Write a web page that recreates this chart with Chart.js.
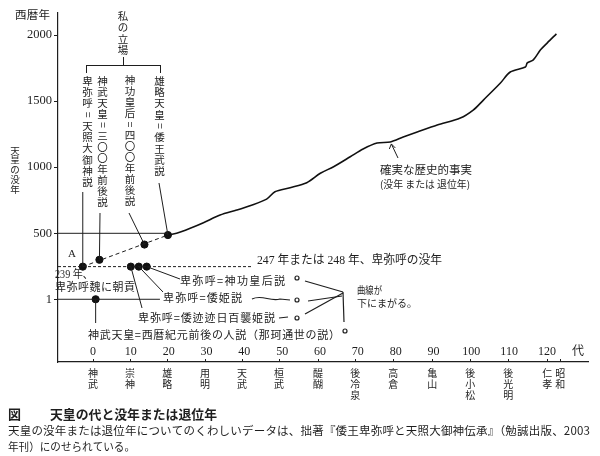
<!DOCTYPE html>
<html>
<head>
<meta charset="utf-8">
<script src="https://cdn.jsdelivr.net/npm/chart.js@4.4.0/dist/chart.umd.min.js"></script>
<style>
  html, body { margin: 0; padding: 0; background: #fff; }
  canvas { display: block; }
</style>
</head>
<body>
<canvas id="c" width="600" height="456"></canvas>
<script>
// 代 (reign number) and year of death / abdication
const curveReign = [19.9, 22.1, 25.7, 29.2, 33.6, 38.0, 41.5, 45.9, 48.1, 52.1, 56.5, 60.1, 63.6, 68.0,
  71.4, 75.1, 78.6, 82.0, 85.7, 91.0, 97.1, 100.5, 103.2, 107.7, 110.3, 114.3, 114.8, 116.4, 118.3, 120.1, 122.5];
const curveYear = [487, 500, 538, 580, 638, 676, 709, 759, 815, 845, 883, 954, 1004, 1079,
  1138, 1183, 1191, 1228, 1266, 1319, 1372, 1432, 1508, 1637, 1720, 1758, 1789, 1812, 1888, 1941, 2009];

// theory points
const pointReign = [-2.7, 1.7, 13.6, 19.8, 10.0, 12.1, 14.2, 0.7];
const pointYear = [248, 300, 415, 487, 248, 248, 248, 1];

// reference levels
const himikoDeath = 248;   // 247 or 248
const yuryakuLevel = 500;
const yearOne = 1;

// axes
const yTickValues = [1, 500, 1000, 1500, 2000];
const xNumberLabels = [0, 10, 20, 30, 40, 50, 60, 70, 80, 90, 100, 110, 120];
const emperorTickValues = [0, 9.8, 19.6, 29.6, 39.4, 49.2, 59.5, 69.3, 79.4, 89.7, 99.7, 109.8, 120.1, 123.5];
const emperorNames = ['神武', '崇神', '雄略', '用明', '天武', '桓武', '醍醐', '後冷泉', '高倉', '亀山', '後小松', '後光明', '仁孝', '昭和'];

const X_MIN = -9.25, X_MAX = 130.85;
const Y_MIN = -473.5, Y_MAX = 2166.6;

const SERIF = "'Liberation Serif', 'Noto Sans CJK JP', serif";
const JP = "'Noto Sans CJK JP', 'Noto Sans', sans-serif";
const INK = '#1e1e1e';

const curve = curveReign.map((x, i) => ({ x, y: curveYear[i] }));
const points = pointReign.map((x, i) => ({ x, y: pointYear[i] }));

function fitText(ctx, s, x1, x2, y, size, family, weight) {
  ctx.font = (weight || '') + ' ' + size + 'px ' + family;
  ctx.textAlign = 'left';
  ctx.textBaseline = 'middle';
  ctx.letterSpacing = '0px';
  const w = ctx.measureText(s).width;
  const target = x2 - x1;
  const n = Array.from(s).length;
  if (w > target) {
    ctx.fillText(s, x1, y, target);
  } else {
    if (n > 1) ctx.letterSpacing = ((target - w) / (n - 1)) + 'px';
    ctx.fillText(s, x1, y);
    ctx.letterSpacing = '0px';
  }
}

function vText(ctx, s, x, yTop, yBottom, size) {
  const chars = Array.from(s);
  const pitch = (yBottom - yTop) / chars.length;
  ctx.font = size + 'px ' + JP;
  ctx.textAlign = 'center';
  ctx.textBaseline = 'middle';
  chars.forEach((ch, i) => {
    const y = yTop + pitch * (i + 0.5);
    if (ch === '=') {
      ctx.save();
      ctx.translate(x, y);
      ctx.rotate(Math.PI / 2);
      ctx.fillText('=', 0, 0);
      ctx.restore();
    } else {
      ctx.fillText(ch, x, y);
    }
  });
}

function line(ctx, x1, y1, x2, y2) {
  ctx.beginPath();
  ctx.moveTo(x1, y1);
  ctx.lineTo(x2, y2);
  ctx.stroke();
}

const annot = {
  id: 'annot',
  beforeDraw(chart) {
    const ctx = chart.ctx;
    ctx.save();
    ctx.fillStyle = '#fff';
    ctx.fillRect(0, 0, chart.width, chart.height);
    ctx.restore();
  },
  afterDraw(chart) {
    const ctx = chart.ctx;
    const xs = chart.scales.x, ys = chart.scales.y;
    const px = v => xs.getPixelForValue(v);
    const py = v => ys.getPixelForValue(v);
    const dot = i => [px(pointReign[i]), py(pointYear[i])];
    ctx.save();
    ctx.fillStyle = INK;
    ctx.strokeStyle = INK;
    ctx.lineWidth = 1;

    // axis titles
    fitText(ctx, '西暦年', 15, 50, 15, 11.5, JP);
    vText(ctx, '天皇の没年', 15, 145, 194, 9.5);

    // numbers above the x axis
    ctx.font = '12px ' + SERIF;
    ctx.textAlign = 'center';
    ctx.textBaseline = 'middle';
    xNumberLabels.forEach(v => ctx.fillText(String(v), px(v), 352));
    ctx.font = '12px ' + JP;
    ctx.fillText('代', 578, 350);

    // small ticks on the x axis
    emperorTickValues.forEach(v => line(ctx, Math.round(px(v)) + 0.5, xs.top - 3, Math.round(px(v)) + 0.5, xs.top));

    // bracket "私の立場"
    vText(ctx, '私の立場', 123, 10, 56, 10.5);
    line(ctx, 123.5, 57, 123.5, 65);
    line(ctx, 86.5, 65.5, 160.5, 65.5);
    line(ctx, 86.5, 65, 86.5, 73);
    line(ctx, 160.5, 65, 160.5, 73);

    // vertical theory labels
    vText(ctx, '卑弥呼=天照大御神説', 87.5, 75, 188, 10.5);
    vText(ctx, '神武天皇=三〇〇年前後説', 102.5, 75, 208, 10.5);
    vText(ctx, '神功皇后=四〇〇年前後説', 130, 75, 207, 10.5);
    vText(ctx, '雄略天皇=倭王武説', 159.5, 75, 177, 10.5);

    // leader lines to the dots
    let d = dot(0); line(ctx, d[0], 192, d[0], d[1]);
    d = dot(1); line(ctx, 100, 213, d[0], d[1]);
    d = dot(2); line(ctx, 129, 213, d[0], d[1]);
    d = dot(3); line(ctx, 159, 183, d[0], d[1]);
    d = dot(4); line(ctx, d[0], d[1], 142, 308);
    d = dot(5); line(ctx, d[0], d[1], 163, 292);
    d = dot(6); line(ctx, d[0], d[1], 180, 279);
    d = dot(7); line(ctx, d[0], d[1], d[0], 323);

    // horizontal texts
    ctx.font = '11px ' + SERIF;
    ctx.textAlign = 'left';
    ctx.textBaseline = 'middle';
    ctx.fillText('A', 68, 254);
    fitText(ctx, '247 年または 248 年、卑弥呼の没年', 257, 442, 261, 12, SERIF);
    fitText(ctx, '239 年、', 55, 93, 275, 11.5, SERIF);
    fitText(ctx, '卑弥呼魏に朝貢', 55, 135, 287, 11, JP);
    fitText(ctx, '卑弥呼=神功皇后説', 180, 285, 281, 11, JP);
    fitText(ctx, '卑弥呼=倭姫説', 163, 242, 298, 11, JP);
    fitText(ctx, '卑弥呼=倭迹迹日百襲姫説', 138, 275, 318, 11, JP);
    fitText(ctx, '神武天皇=西暦紀元前後の人説（那珂通世の説）', 88, 340, 335, 11, JP);
    fitText(ctx, '確実な歴史的事実', 380, 472, 170, 11.5, JP);
    fitText(ctx, '(没年 または 退位年)', 380, 470, 184, 10, JP);

    // handwritten notes
    ctx.lineWidth = 1.2;
    [[297, 278], [297, 300], [297, 318], [345, 331]].forEach(c => {
      ctx.beginPath(); ctx.arc(c[0], c[1], 2, 0, Math.PI * 2); ctx.stroke();
    });
    ctx.beginPath();
    ctx.moveTo(252, 299);
    ctx.bezierCurveTo(262, 294, 270, 302, 280, 299);
    ctx.lineTo(290, 300);
    ctx.stroke();
    line(ctx, 279, 318, 288, 317);
    line(ctx, 305, 281, 343, 292);
    line(ctx, 308, 301, 342, 296);
    line(ctx, 305, 314, 343, 293);
    line(ctx, 343, 292, 344, 322);
    fitText(ctx, '曲線が', 357, 382, 290, 10, JP);
    fitText(ctx, '下にまがる。', 357, 417, 303, 10, JP);

    // arrow to the curve
    const tx = px(78.6), ty = py(1191);
    ctx.lineWidth = 1;
    line(ctx, 398, 158, tx + 1, ty + 2);
    line(ctx, tx + 1, ty + 2, tx - 1, ty + 7);
    line(ctx, tx + 1, ty + 2, tx + 5, ty + 6);

    // caption
    fitText(ctx, '図', 8, 22, 414, 13, JP, 'bold');
    fitText(ctx, '天皇の代と没年または退位年', 50, 217, 414, 13, JP, 'bold');
    fitText(ctx, '天皇の没年または退位年についてのくわしいデータは、拙著『倭王卑弥呼と天照大御神伝承』（勉誠出版、2003', 8, 590, 431, 11.5, JP);
    fitText(ctx, '年刊）にのせられている。', 8, 135, 447, 11, JP);
    ctx.restore();
  }
};

new Chart(document.getElementById('c'), {
  type: 'scatter',
  data: {
    datasets: [
      { type: 'line', data: curve, borderColor: '#111', borderWidth: 1.6, pointRadius: 0, tension: 0.3 },
      { type: 'line', data: [{ x: X_MIN, y: yuryakuLevel }, { x: pointReign[3], y: yuryakuLevel }], borderColor: INK, borderWidth: 1, pointRadius: 0 },
      { type: 'line', data: [{ x: X_MIN, y: yearOne }, { x: 17.7, y: yearOne }], borderColor: INK, borderWidth: 1, pointRadius: 0 },
      { type: 'line', data: [{ x: X_MIN, y: himikoDeath }, { x: 42.3, y: himikoDeath }], borderColor: INK, borderWidth: 1, borderDash: [3, 2], pointRadius: 0 },
      { type: 'line', data: [points[0], points[3]], borderColor: INK, borderWidth: 1, borderDash: [4, 3], pointRadius: 0 },
      { type: 'scatter', data: points, backgroundColor: '#111', borderColor: '#111', pointRadius: 3.6 }
    ]
  },
  options: {
    responsive: false,
    animation: false,
    layout: { padding: { left: 0, right: 12, top: 13, bottom: 0 } },
    plugins: { legend: { display: false }, tooltip: { enabled: false } },
    scales: {
      x: {
        type: 'linear', min: X_MIN, max: X_MAX,
        afterFit(s) { s.height = 94; },
        afterBuildTicks(s) { s.ticks = emperorTickValues.map(v => ({ value: v })); },
        grid: { display: false },
        border: { color: INK, width: 1.2 },
        ticks: {
          autoSkip: false, maxRotation: 0, minRotation: 0, padding: -2, color: INK,
          font: { family: JP, size: 10, lineHeight: 1.08 },
          callback: (v, i) => Array.from(emperorNames[i])
        }
      },
      y: {
        type: 'linear', min: Y_MIN, max: Y_MAX,
        afterFit(s) { s.width = 58; },
        afterBuildTicks(s) { s.ticks = yTickValues.map(v => ({ value: v })); },
        grid: { drawOnChartArea: false, tickLength: 4, color: INK },
        border: { color: INK, width: 1.2 },
        ticks: { padding: 2, color: INK, font: { family: SERIF, size: 12.5 }, callback: v => String(v) }
      }
    }
  },
  plugins: [annot]
});
</script>
</body>
</html>
